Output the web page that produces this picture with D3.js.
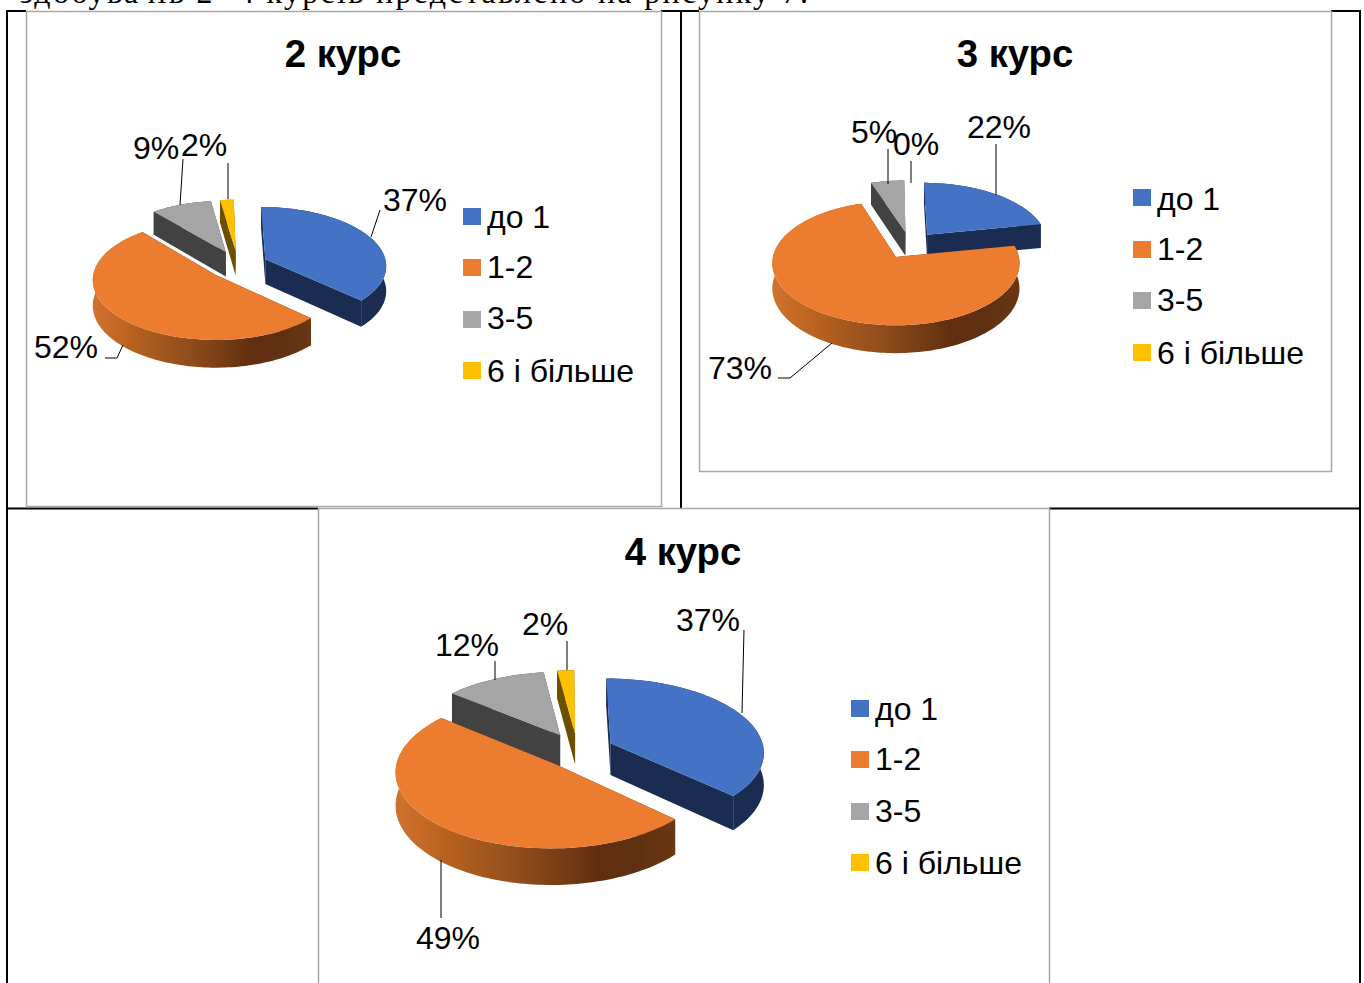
<!DOCTYPE html>
<html>
<head>
<meta charset="utf-8">
<script src="https://cdnjs.cloudflare.com/ajax/libs/d3/7.8.5/d3.min.js"></script>
<style>
html,body{margin:0;padding:0;background:#fff;overflow:hidden}
svg{display:block}
text{font-family:"Liberation Sans",Arial,sans-serif;fill:#000}
</style>
</head>
<body>
<svg id="c" width="1364" height="983"></svg>
<script>
// ---- data ----
const categories = ["до 1", "1-2", "3-5", "6 і більше"];
const titles = ["2 курс", "3 курс", "4 курс"];
const course2Values = [37, 52, 9, 2];
const course3Values = [22, 73, 5, 0];
const course4Values = [37, 49, 12, 2];
const introLine = "здобувачів 2 -4 курсів представлено на рисунку 7.";

// ---- styles ----
const topColors = ["#4472C4", "#EB7C30", "#A5A5A5", "#FFC000"];
const wallColors = ["#1A2C52", null, "#424242", "#6B5000"];
const frameGrey = "#A8A8A8";

// ---- layout for each panel ----
const panels = [
  { values: course2Values, title: titles[0], titleX: 343, titleY: 67,
    frame: [26, 11, 661, 506],
    cx: 238, cy: 265, rx: 121, ry: 57.7, p: 0.084, e: 0.25, depth: 25, skew: 2,
    legendX: 463, textX: 487, swatchY: [208, 259, 311, 362], textY: [228, 278, 329, 382],
    labels: [[383, 211], [34, 358], [133, 159], [181, 156]],
    leaders: [[[380, 210], [371, 237]], [[105, 358], [117, 358], [123, 345]], [[183, 159], [180, 205]], [[228, 163], [228, 199]]] },
  { values: course3Values, title: titles[1], titleX: 1015, titleY: 67,
    frame: [699, 11, 1331, 471],
    cx: 910, cy: 245, rx: 120.5, ry: 59, p: 0.1, e: 0.23, depth: 24.5, skew: 1.5,
    legendX: 1133, textX: 1157, swatchY: [189, 241, 292, 344], textY: [210, 260, 311, 364],
    labels: [[967, 138], [708, 379], [851, 143], [893, 155]],
    leaders: [[[996, 144], [996, 195]], [[778, 378], [790, 378], [832, 343]], [[888, 149], [888, 184]], [[911, 161], [911, 183]]] },
  { values: course4Values, title: titles[2], titleX: 683, titleY: 565,
    frame: [318, 508, 1049, 990],
    cx: 577.5, cy: 750, rx: 153.5, ry: 73, p: 0.107, e: 0.237, depth: 32, skew: 1,
    legendX: 851, textX: 875, swatchY: [700, 751, 803, 854], textY: [720, 770, 822, 874],
    labels: [[676, 631], [416, 949], [435, 656], [522, 635]],
    leaders: [[[744, 630], [742, 713]], [[441, 860], [441, 918]], [[495, 661], [495, 680]], [[567, 641], [567, 670]]] }
];

const svg = d3.select("#c");
const defs = svg.append("defs");

// intro line, cut by the top of the page
svg.append("text").attr("x", 20).attr("y", 3)
  .attr("textLength", 788).attr("lengthAdjust", "spacing")
  .style("font-family", '"Liberation Serif",serif').style("font-size", "32px")
  .text(introLine);

// table rules
const ruleSegs = [[7, 11, 26, 11], [661, 11, 699, 11], [1331, 11, 1361, 11], [7, 10, 7, 983], [1360, 10, 1360, 983], [681, 11, 681, 508], [6, 508.5, 318, 508.5], [1049, 508.5, 1361, 508.5]];
svg.append("g").selectAll("line").data(ruleSegs).join("line")
  .attr("x1", d => d[0]).attr("y1", d => d[1]).attr("x2", d => d[2]).attr("y2", d => d[3])
  .attr("stroke", "#000").attr("stroke-width", 2);

const pie = d3.pie().sort(null).startAngle(0).endAngle(2 * Math.PI);
const lineGen = d3.line();

panels.forEach((P, idx) => {
  const g = svg.append("g");
  const [fx0, fy0, fx1, fy1] = P.frame;
  g.append("rect").attr("x", fx0 + .5).attr("y", fy0 + .5).attr("width", fx1 - fx0).attr("height", fy1 - fy0)
    .attr("fill", "none").attr("stroke", frameGrey).attr("stroke-width", 1.5);

  // projection of the tilted pie plane, with a small perspective
  const project = (X, Y, down) => {
    const w = 1 / (1 - P.p * Y);
    return [P.cx + P.rx * X * w + P.skew * Y, P.cy + P.ry * Y * w + (down ? P.depth * w : 0)];
  };

  const gradId = "sideGrad" + idx;
  const grad = defs.append("linearGradient").attr("id", gradId).attr("gradientUnits", "userSpaceOnUse");
  const arcs = pie(P.values).map((d, i) => ({ ...d, i }));
  const gradStops = [[0, "#D0732E"], [0.18, "#B8621F"], [0.45, "#8F4C1B"], [0.72, "#622F10"], [0.85, "#5E3011"], [1, "#6A3712"]];
  grad.selectAll("stop").data(gradStops).join("stop")
    .attr("offset", d => d[0]).attr("stop-color", d => d[1]);

  // back-to-front order
  const slices = arcs.filter(a => a.value > 0).map(a => {
    const mid = (a.startAngle + a.endAngle) / 2;
    const ox = Math.sin(mid) * P.e, oy = -Math.cos(mid) * P.e;
    const steps = Math.max(4, Math.ceil((a.endAngle - a.startAngle) * 40));
    const rim = d3.range(steps + 1).map(k => {
      const t = a.startAngle + (a.endAngle - a.startAngle) * k / steps;
      return [ox + Math.sin(t), oy - Math.cos(t)];
    });
    return { ...a, mid, ox, oy, rim };
  }).sort((a, b) => -Math.cos(a.mid) - -Math.cos(b.mid));

  slices.forEach(s => {
    const fillWall = wallColors[s.i] || `url(#${gradId})`;
    const top = s.rim.map(r => project(r[0], r[1], false));
    const bot = s.rim.map(r => project(r[0], r[1], true));
    const apexT = project(s.ox, s.oy, false), apexB = project(s.ox, s.oy, true);

    if (!wallColors[s.i]) {
      const xs = top.map(d => d[0]);
      grad.attr("x1", d3.min(xs)).attr("x2", d3.max(xs)).attr("y1", 0).attr("y2", 0);
    }
    // radial walls
    const wallFill = wallColors[s.i] || "#5E3011";
    [[apexT, top[0], bot[0], apexB], [apexT, top[top.length - 1], bot[bot.length - 1], apexB]].forEach(q => {
      g.append("path").attr("d", lineGen(q) + "Z").attr("fill", wallFill);
    });
    // outer wall
    g.append("path").attr("d", lineGen(top.concat(bot.slice().reverse())) + "Z").attr("fill", fillWall);
    // top face
    g.append("path").attr("d", lineGen([apexT].concat(top)) + "Z").attr("fill", topColors[s.i]);
  });

  // title
  g.append("text").attr("x", P.titleX).attr("y", P.titleY).attr("text-anchor", "middle")
    .style("font-size", "38.3px").style("font-weight", "bold").text(P.title);

  // leaders and data labels
  g.selectAll("path.leader").data(P.leaders).join("path").attr("class", "leader")
    .attr("d", d => lineGen(d)).attr("fill", "none").attr("stroke", "#000").attr("stroke-width", 1);
  g.selectAll("text.val").data(P.values).join("text").attr("class", "val")
    .attr("x", (d, i) => P.labels[i][0]).attr("y", (d, i) => P.labels[i][1])
    .style("font-size", "32px").text(d => d + "%");

  // legend
  g.selectAll("rect.sw").data(categories).join("rect").attr("class", "sw")
    .attr("x", P.legendX).attr("y", (d, i) => P.swatchY[i]).attr("width", 18).attr("height", 17)
    .attr("fill", (d, i) => topColors[i]);
  g.selectAll("text.lg").data(categories).join("text").attr("class", "lg")
    .attr("x", P.textX).attr("y", (d, i) => P.textY[i])
    .style("font-size", "32px").text(d => d);
});
</script>
</body>
</html>
